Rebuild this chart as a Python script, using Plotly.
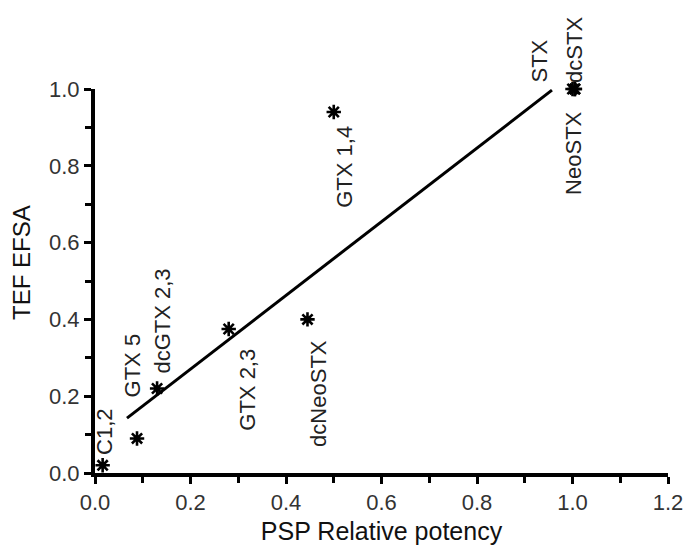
import plotly.graph_objects as go

# Toxin data: PSP relative potency (x) vs TEF EFSA (y)
toxins = ["C1,2", "GTX 5", "dcGTX 2,3", "GTX 2,3", "dcNeoSTX", "GTX 1,4", "STX", "dcSTX", "NeoSTX"]
psp_potency = [0.016, 0.088, 0.13, 0.28, 0.445, 0.50, 1.0, 1.005, 1.005]
tef_efsa = [0.02, 0.09, 0.22, 0.375, 0.40, 0.94, 1.0, 1.0, 1.0]

# Fitted regression line endpoints
fit_x = [0.067, 0.957]
fit_y = [0.143, 0.997]

# label pixel offsets (layout only)
label_shift = {
    "C1,2": (2, 33),
    "GTX 5": (-5, 73),
    "dcGTX 2,3": (5, 67),
    "GTX 2,3": (18, -61),
    "dcNeoSTX": (11, -74),
    "GTX 1,4": (10, -55),
    "STX": (-34, 28),
    "dcSTX": (-1, 39),
    "NeoSTX": (-2, -64),
}

FONT = "Liberation Sans, Arial, sans-serif"

fig = go.Figure()
fig.add_trace(go.Scatter(
    x=fit_x, y=fit_y, mode="lines",
    line=dict(color="black", width=3),
    showlegend=False, hoverinfo="skip",
))
fig.add_trace(go.Scatter(
    x=psp_potency, y=tef_efsa, mode="markers",
    marker=dict(symbol="asterisk-open", size=12, color="black",
                line=dict(color="black", width=2.6)),
    cliponaxis=False, showlegend=False,
))

annotations = []
for name, xv, yv in zip(toxins, psp_potency, tef_efsa):
    dx, dy = label_shift[name]
    annotations.append(dict(
        x=xv, y=yv, xref="x", yref="y", text=name, showarrow=False,
        textangle=-90, xanchor="center", yanchor="middle",
        xshift=dx, yshift=dy,
        font=dict(family=FONT, size=22, color="#222222"),
    ))
annotations.append(dict(
    x=0, y=0.547, xref="paper", yref="y", text="TEF EFSA", showarrow=False,
    textangle=-90, xanchor="center", yanchor="middle", xshift=-73,
    font=dict(family=FONT, size=24, color="#111111"),
))

axis_common = dict(
    showgrid=False, zeroline=False, showline=True, automargin=False,
    linecolor="black", linewidth=4,
    ticks="outside", ticklen=7, tickwidth=3, tickcolor="black",
    tickfont=dict(family=FONT, size=22, color="#333333"),
    tickformat=".1f",
    minor=dict(ticks="outside", ticklen=6, tickwidth=3, tickcolor="black", dtick=0.1, showgrid=False),
)

fig.update_layout(
    width=685, height=552,
    margin=dict(l=95, r=17, t=89, b=79),
    plot_bgcolor="white", paper_bgcolor="white",
    xaxis=dict(range=[0, 1.2], dtick=0.2, tick0=0,
               title=dict(text="PSP Relative potency", standoff=9,
                          font=dict(family=FONT, size=25, color="#111111")),
               **axis_common),
    yaxis=dict(range=[0, 1.0], dtick=0.2, tick0=0, **axis_common),
    annotations=annotations,
)

fig.write_html("out.html", config={"displayModeBar": False},
               post_script="document.body.style.margin='0px';document.body.style.overflow='hidden';")
